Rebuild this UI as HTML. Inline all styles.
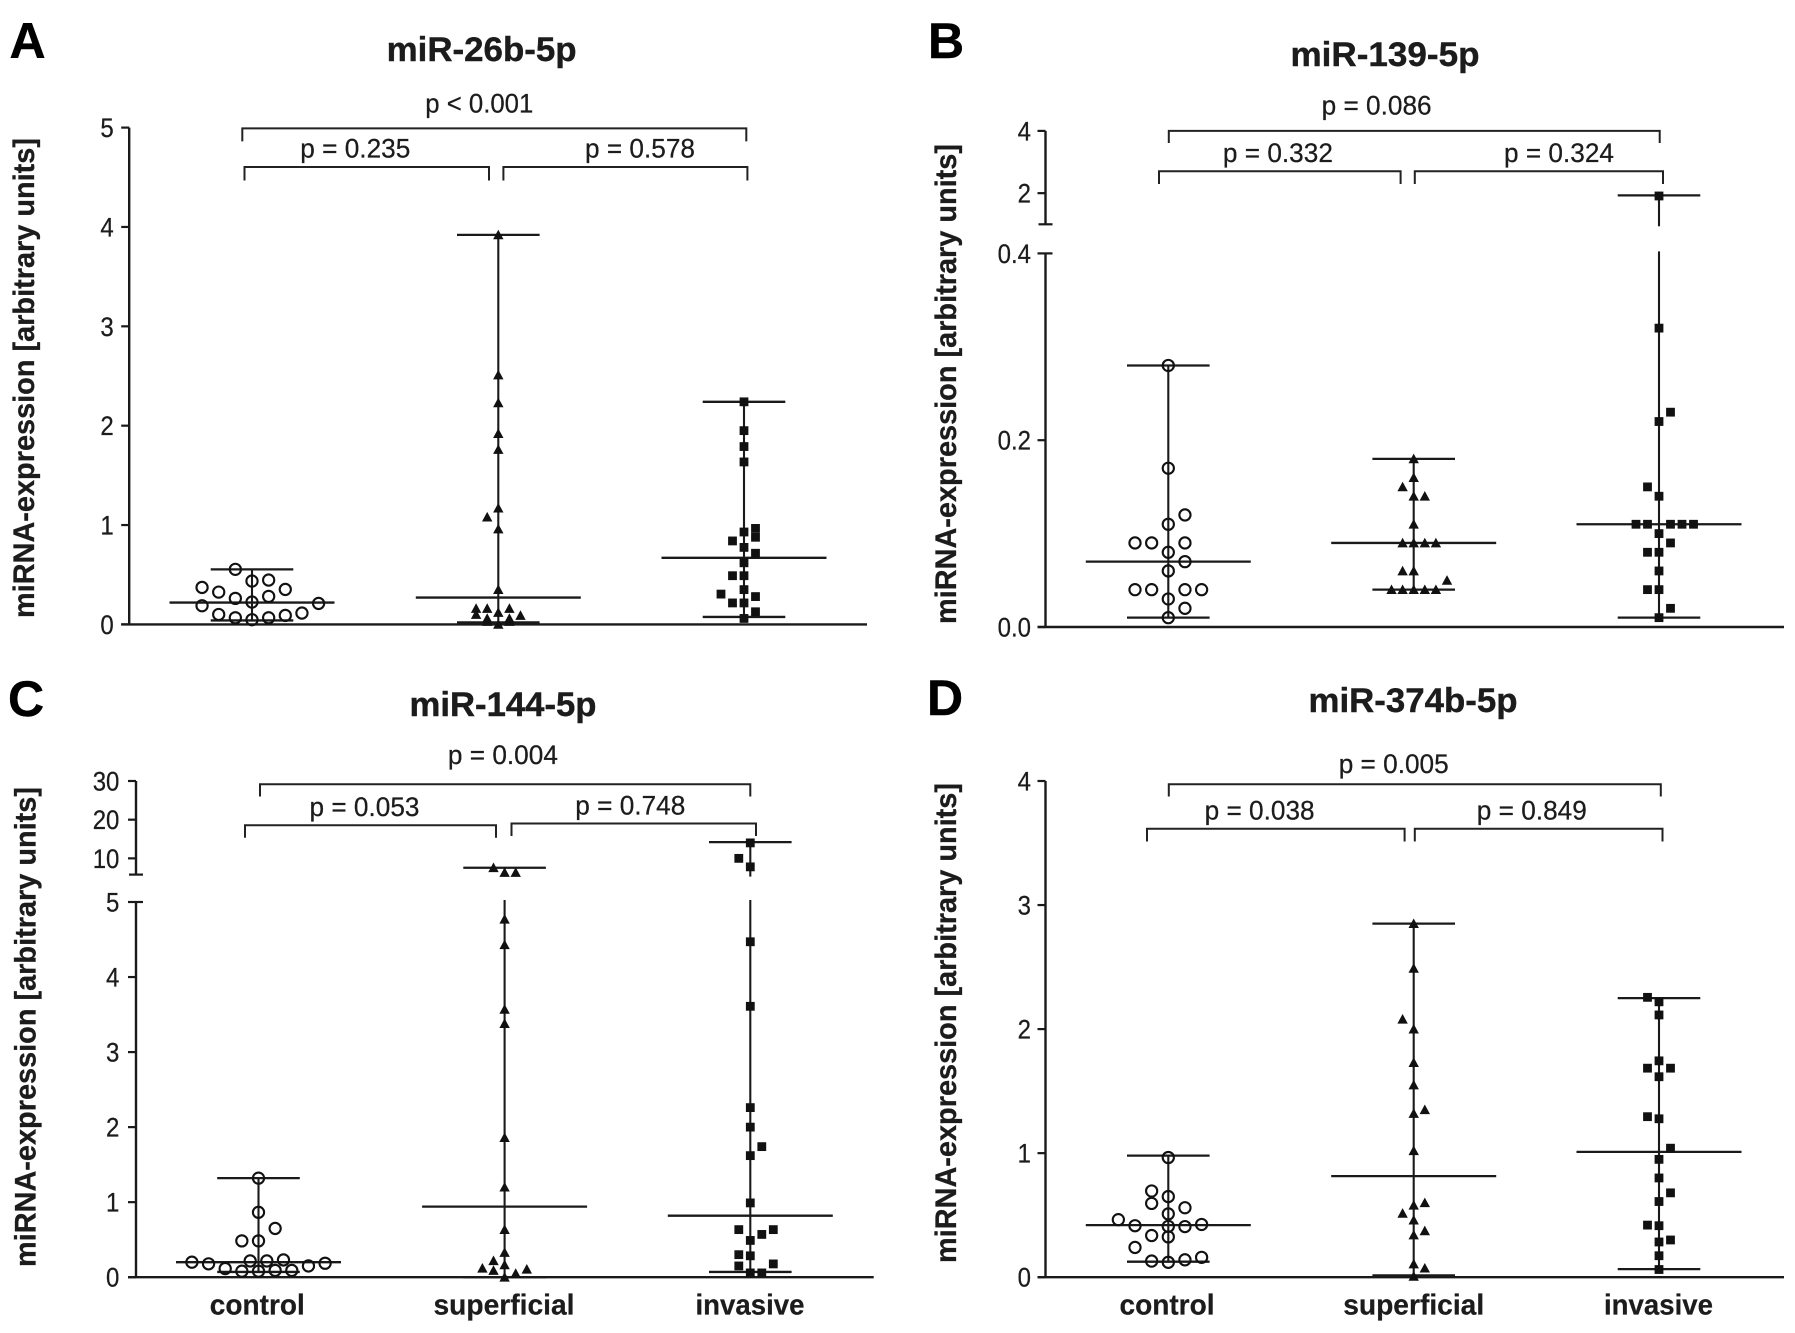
<!DOCTYPE html>
<html lang="en">
<head>
<meta charset="utf-8">
<title>miRNA expression by group</title>
<style>
html,body{margin:0;padding:0;background:#fff}
svg{display:block}
text{font-family:"Liberation Sans",sans-serif;fill:#1c1c1c;stroke:#1c1c1c;stroke-width:.25px}
.letter{font-size:50px;font-weight:bold;fill:#000;stroke:#000;stroke-width:.4px}
.title{font-size:34px;font-weight:bold;text-anchor:middle;stroke-width:.4px}
.ytitle{font-size:30px;font-weight:bold;text-anchor:middle;stroke-width:.3px}
.plabel{font-size:27px;text-anchor:middle}
.cat{font-size:29px;font-weight:bold;text-anchor:middle}
.tick{font-size:26.5px;text-anchor:end}
.bracket{fill:none;stroke:#222;stroke-width:2}
</style>
</head>
<body>
<svg id="figure" xmlns="http://www.w3.org/2000/svg" width="1795" height="1333" viewBox="0 0 1795 1333">
<rect x="0" y="0" width="1795" height="1333" fill="#fff"/>

<g>
<text class="letter" x="9.5" y="58">A</text>
<text class="title" x="481.6" y="61" textLength="190" lengthAdjust="spacingAndGlyphs">miR-26b-5p</text>
<text class="ytitle" transform="translate(34,378) rotate(-90)" textLength="480" lengthAdjust="spacingAndGlyphs">miRNA-expression [arbitrary units]</text>
<path class="bracket" d="M242.3 141.4V128.4H746.3V141.4"/>
<path class="bracket" d="M244.5 180.5V167H489V180.5"/>
<path class="bracket" d="M503.4 180.5V167H747.4V180.5"/>
<text class="plabel" x="479.3" y="112.4" textLength="108" lengthAdjust="spacingAndGlyphs">p &lt; 0.001</text>
<text class="plabel" x="355.3" y="157.4" textLength="110" lengthAdjust="spacingAndGlyphs">p = 0.235</text>
<text class="plabel" x="640" y="157.4" textLength="110" lengthAdjust="spacingAndGlyphs">p = 0.578</text>
</g>

<g>
<text class="letter" x="928" y="58">B</text>
<text class="title" x="1385" y="66" textLength="189" lengthAdjust="spacingAndGlyphs">miR-139-5p</text>
<text class="ytitle" transform="translate(956,384) rotate(-90)" textLength="480" lengthAdjust="spacingAndGlyphs">miRNA-expression [arbitrary units]</text>
<path class="bracket" d="M1168.8 143V130.9H1659.7V143"/>
<path class="bracket" d="M1159 184V171.3H1400.6V184"/>
<path class="bracket" d="M1414.8 184V171.3H1663V184"/>
<text class="plabel" x="1376.6" y="114.5" textLength="110" lengthAdjust="spacingAndGlyphs">p = 0.086</text>
<text class="plabel" x="1277.9" y="162" textLength="110" lengthAdjust="spacingAndGlyphs">p = 0.332</text>
<text class="plabel" x="1559" y="162" textLength="110" lengthAdjust="spacingAndGlyphs">p = 0.324</text>
</g>

<g>
<text class="letter" x="8" y="716">C</text>
<text class="title" x="503" y="716" textLength="187" lengthAdjust="spacingAndGlyphs">miR-144-5p</text>
<text class="ytitle" transform="translate(35.6,1027) rotate(-90)" textLength="480" lengthAdjust="spacingAndGlyphs">miRNA-expression [arbitrary units]</text>
<path class="bracket" d="M260 796.5V784.3H750.3V796.5"/>
<path class="bracket" d="M245 837.7V825.3H496V837.7"/>
<path class="bracket" d="M511.5 836V823.5H756V836"/>
<text class="plabel" x="502.9" y="763.9" textLength="110" lengthAdjust="spacingAndGlyphs">p = 0.004</text>
<text class="plabel" x="364.5" y="816.2" textLength="110" lengthAdjust="spacingAndGlyphs">p = 0.053</text>
<text class="plabel" x="630.3" y="814.5" textLength="110" lengthAdjust="spacingAndGlyphs">p = 0.748</text>
<text class="cat" x="257.3" y="1314.5" textLength="95" lengthAdjust="spacingAndGlyphs">control</text>
<text class="cat" x="504" y="1314.5" textLength="141" lengthAdjust="spacingAndGlyphs">superficial</text>
<text class="cat" x="750" y="1314.5" textLength="109" lengthAdjust="spacingAndGlyphs">invasive</text>
</g>

<g>
<text class="letter" x="927" y="715">D</text>
<text class="title" x="1413" y="712" textLength="209" lengthAdjust="spacingAndGlyphs">miR-374b-5p</text>
<text class="ytitle" transform="translate(956,1023) rotate(-90)" textLength="480" lengthAdjust="spacingAndGlyphs">miRNA-expression [arbitrary units]</text>
<path class="bracket" d="M1168.8 796.5V784.3H1660.8V796.5"/>
<path class="bracket" d="M1147 841.5V828.7H1404.6V841.5"/>
<path class="bracket" d="M1414.8 841.5V828.7H1662.5V841.5"/>
<text class="plabel" x="1393.7" y="772.9" textLength="110" lengthAdjust="spacingAndGlyphs">p = 0.005</text>
<text class="plabel" x="1259.6" y="819.7" textLength="110" lengthAdjust="spacingAndGlyphs">p = 0.038</text>
<text class="plabel" x="1531.8" y="819.7" textLength="110" lengthAdjust="spacingAndGlyphs">p = 0.849</text>
<text class="cat" x="1167" y="1314.5" textLength="95" lengthAdjust="spacingAndGlyphs">control</text>
<text class="cat" x="1413.7" y="1314.5" textLength="141" lengthAdjust="spacingAndGlyphs">superficial</text>
<text class="cat" x="1658.5" y="1314.5" textLength="109" lengthAdjust="spacingAndGlyphs">invasive</text>
</g>
</svg>

<script>
// ---- Panel A: miR-26b-5p ----
const panelATicks = [0, 1, 2, 3, 4, 5];
const panelATickLabels = ['0', '1', '2', '3', '4', '5'];
const panelAControlValues = [0.554, 0.436, 0.446, 0.372, 0.352, 0.325, 0.262, 0.282, 0.225, 0.211, 0.188, 0.10, 0.114, 0.09, 0.067, 0.067, 0.047];
const panelAControlLanes = [-1, 0, 1, -3, 2, -2, -1, 1, 0, 4, -3, -2, 3, 2, -1, 1, 0];
const panelASuperficialValues = [3.92, 2.51, 2.23, 1.92, 1.76, 1.17, 0.96, 1.08, 0.35, 0.16, 0.10, 0.16, 0.06, 0.12, 0.16, 0.06, 0.09, 0.0, 0.03, 0.03];
const panelASuperficialLanes = [0, 0, 0, 0, 0, 0, 0, -1, 0, -2, -2, -1, -1, 0, 1, 1, 2, 0, -1, 1];
const panelAInvasiveValues = [2.24, 1.95, 1.79, 1.635, 0.966, 0.93, 0.877, 0.84, 0.775, 0.716, 0.62, 0.49, 0.49, 0.35, 0.305, 0.28, 0.216, 0.216, 0.127, 0.06];
const panelAInvasiveLanes = [0, 0, 0, 0, 1, 0, 1, -1, 0, 1, 0, -1, 0, 0, -2, 1, -1, 0, 1, 0];
const panelAMedians = [0.22, 0.27, 0.67];
const panelAMins = [0.04, 0.02, 0.075];
const panelAMaxes = [0.554, 3.92, 2.24];

// ---- Panel B: miR-139-5p ----
const panelBTicks = [0, 0.2, 0.4, 2, 4];
const panelBTickLabels = ['0.0', '0.2', '0.4', '2', '4'];
const panelBControlValues = [0.28, 0.17, 0.12, 0.11, 0.09, 0.09, 0.09, 0.08, 0.07, 0.06, 0.04, 0.04, 0.04, 0.04, 0.03, 0.02, 0.01];
const panelBControlLanes = [0, 0, 1, 0, -2, -1, 1, 0, 1, 0, -2, -1, 1, 2, 0, 1, 0];
const panelBSuperficialValues = [0.18, 0.16, 0.15, 0.14, 0.14, 0.11, 0.09, 0.09, 0.09, 0.09, 0.06, 0.06, 0.05, 0.04, 0.04, 0.04, 0.04, 0.04];
const panelBSuperficialLanes = [0, 0, -1, 0, 1, 0, -1, 0, 1, 2, -1, 0, 3, -2, -1, 0, 1, 2];
const panelBInvasiveValues = [1.91, 0.32, 0.23, 0.22, 0.15, 0.14, 0.11, 0.11, 0.11, 0.11, 0.11, 0.10, 0.09, 0.08, 0.08, 0.06, 0.04, 0.04, 0.02, 0.01];
const panelBInvasiveLanes = [0, 0, 1, 0, -1, 0, -2, -1, 1, 2, 3, 0, 1, -1, 0, 0, -1, 0, 1, 0];
const panelBMedians = [0.07, 0.09, 0.11];
const panelBMins = [0.01, 0.04, 0.01];
const panelBMaxes = [0.28, 0.18, 1.93];

// ---- Panel C: miR-144-5p ----
const panelCTicks = [0, 1, 2, 3, 4, 5, 10, 20, 30];
const panelCTickLabels = ['0', '1', '2', '3', '4', '5', '10', '20', '30'];
const panelCControlValues = [1.32, 0.865, 0.65, 0.484, 0.484, 0.2, 0.178, 0.115, 0.217, 0.217, 0.23, 0.15, 0.186, 0.08, 0.08, 0.09, 0.09];
const panelCControlLanes = [0, 0, 1, -1, 0, -4, -3, -2, -0.5, 0.5, 1.5, 3, 4, -1, 0, 1, 2];
const panelCSuperficialValues = [7.57, 6.35, 6.35, 4.77, 4.43, 3.57, 3.38, 1.86, 1.2, 0.634, 0.33, 0.22, 0.165, 0.12, 0.09, 0.107, 0.05, 0.0];
const panelCSuperficialLanes = [-1, 0, 1, 0, 0, 0, 0, 0, 0, 0, 0, -1, 0, -2, -1, 2, 1, 0];
const panelCInvasiveValues = [14, 10, 7.8, 4.47, 3.61, 2.26, 2.0, 1.74, 1.62, 0.99, 0.634, 0.634, 0.57, 0.49, 0.30, 0.285, 0.177, 0.15, 0.057, 0.057];
const panelCInvasiveLanes = [0, -1, 0, 0, 0, 0, 0, 1, 0, 0, -1, 2, 1, 0, -1, 0, 2, -1, 0, 1];
const panelCMedians = [0.2, 0.94, 0.82];
const panelCMins = [0.07, 0.0, 0.07];
const panelCMaxes = [1.32, 7.57, 14.2];

// ---- Panel D: miR-374b-5p ----
const panelDTicks = [0, 1, 2, 3, 4];
const panelDTickLabels = ['0', '1', '2', '3', '4'];
const panelDControlValues = [0.965, 0.695, 0.65, 0.595, 0.56, 0.51, 0.464, 0.415, 0.408, 0.425, 0.41, 0.336, 0.325, 0.24, 0.16, 0.14, 0.13, 0.12];
const panelDControlLanes = [0, -1, 0, -1, 1, 0, -3, -2, 1, 2, 0, -1, 0, -2, 2, 1, -1, 0];
const panelDSuperficialValues = [2.85, 2.49, 2.08, 2.0, 1.73, 1.55, 1.35, 1.32, 1.02, 0.6, 0.58, 0.515, 0.46, 0.374, 0.34, 0.107, 0.073, 0.007];
const panelDSuperficialLanes = [0, 0, -1, 0, 0, 0, 1, 0, 0, 1, 0, -1, 0, 1, 0, 0, 1, 0];
const panelDInvasiveValues = [2.256, 2.22, 2.114, 1.744, 1.685, 1.685, 1.616, 1.294, 1.277, 1.04, 0.95, 0.8, 0.68, 0.61, 0.42, 0.415, 0.3, 0.284, 0.173, 0.062];
const panelDInvasiveLanes = [-1, 0, 0, 0, -1, 1, 0, -1, 0, 1, 0, 0, 1, 0, -1, 0, 1, 0, 0, 0];
const panelDMedians = [0.42, 0.815, 1.01];
const panelDMins = [0.125, 0.015, 0.065];
const panelDMaxes = [0.98, 2.85, 2.25];

const groupNames = ['control', 'superficial', 'invasive'];

// Axis geometry (layout only)
const panels = [
  { id: 'a', axisX: 129.2, axisEnd: 867, labelX: 113.7, centers: [252, 498.3, 744],
    lower: { vMin: 0, vMax: 5, yMin: 624.4, yMax: 127.6 }, upper: null,
    ticks: panelATicks, tickLabels: panelATickLabels,
    values: [panelAControlValues, panelASuperficialValues, panelAInvasiveValues],
    lanes: [panelAControlLanes, panelASuperficialLanes, panelAInvasiveLanes],
    medians: panelAMedians, mins: panelAMins, maxes: panelAMaxes },
  { id: 'b', axisX: 1045.5, axisEnd: 1784, labelX: 1031, centers: [1168.3, 1413.7, 1659],
    lower: { vMin: 0, vMax: 0.4, yMin: 627, yMax: 253.4 },
    upper: { vMin: 1, vMax: 4, yMin: 224.3, yMax: 130.9 },
    ticks: panelBTicks, tickLabels: panelBTickLabels,
    values: [panelBControlValues, panelBSuperficialValues, panelBInvasiveValues],
    lanes: [panelBControlLanes, panelBSuperficialLanes, panelBInvasiveLanes],
    medians: panelBMedians, mins: panelBMins, maxes: panelBMaxes },
  { id: 'c', axisX: 136, axisEnd: 873.7, labelX: 119.4, centers: [258.5, 504.6, 750.3],
    lower: { vMin: 0, vMax: 5, yMin: 1277.2, yMax: 902 },
    upper: { vMin: 5.8, vMax: 30, yMin: 874.6, yMax: 781 },
    ticks: panelCTicks, tickLabels: panelCTickLabels,
    values: [panelCControlValues, panelCSuperficialValues, panelCInvasiveValues],
    lanes: [panelCControlLanes, panelCSuperficialLanes, panelCInvasiveLanes],
    medians: panelCMedians, mins: panelCMins, maxes: panelCMaxes },
  { id: 'd', axisX: 1045.5, axisEnd: 1784, labelX: 1031, centers: [1168.3, 1413.7, 1659],
    lower: { vMin: 0, vMax: 4, yMin: 1277.2, yMax: 781 }, upper: null,
    ticks: panelDTicks, tickLabels: panelDTickLabels,
    values: [panelDControlValues, panelDSuperficialValues, panelDInvasiveValues],
    lanes: [panelDControlLanes, panelDSuperficialLanes, panelDInvasiveLanes],
    medians: panelDMedians, mins: panelDMins, maxes: panelDMaxes }
];

const laneSteps = [16.65, 11.1, 11.5];
const SVG_NS = 'http://www.w3.org/2000/svg';
const figure = document.getElementById('figure');
const INK = '#1a1a1a';

function make(tag, attrs, parent) {
  const node = document.createElementNS(SVG_NS, tag);
  for (const k in attrs) node.setAttribute(k, attrs[k]);
  parent.appendChild(node);
  return node;
}

function linear(seg, v) {
  return seg.yMin + (v - seg.vMin) / (seg.vMax - seg.vMin) * (seg.yMax - seg.yMin);
}

function yScale(p, v) {
  if (!p.upper || v <= p.lower.vMax) return linear(p.lower, v);
  if (v >= p.upper.vMin) return linear(p.upper, v);
  const gap = { vMin: p.lower.vMax, vMax: p.upper.vMin, yMin: p.lower.yMax, yMax: p.upper.yMin };
  return linear(gap, v);
}

function hLine(parent, x1, x2, y, w) {
  return make('line', { x1: x1, x2: x2, y1: y, y2: y, stroke: INK, 'stroke-width': w }, parent);
}

function vLine(parent, x, y1, y2, w) {
  return make('line', { x1: x, x2: x, y1: y1, y2: y2, stroke: INK, 'stroke-width': w }, parent);
}

function drawAxes(p) {
  const g = make('g', {}, figure);
  
  
  const base = yScale(p, 0);
  const xAxis = hLine(g, p.axisX - 8, p.axisEnd, base, 2.4);
  
  
  const lowerAxis = vLine(g, p.axisX, base, p.lower.yMax, 2.4);
  
  
  if (p.upper) {
    const upperAxis = vLine(g, p.axisX, p.upper.yMin, p.upper.yMax, 2.4);
    
    
    const capA = hLine(g, p.axisX - 7, p.axisX + 7, p.upper.yMin, 2.2);
    
    
    const capB = hLine(g, p.axisX, p.axisX + 7, p.lower.yMax, 2.2);
    
    
  }
  p.ticks.forEach(function (t, i) {
    const y = yScale(p, t);
    const mark = hLine(g, p.axisX - 8, p.axisX, y, 2.2);
    
    
    const label = make('text', { class: 'tick', x: p.labelX, y: y + 9.5 }, g);
    label.textContent = p.tickLabels[i];
    label.setAttribute('textLength', (p.tickLabels[i].length === 3 ? 1.39 : p.tickLabels[i].length * 0.556) * 24);
    label.setAttribute('lengthAdjust', 'spacingAndGlyphs');
    
    
  });
}

function drawStem(p, g, cx, minV, maxV, name) {
  const yLow = yScale(p, minV);
  const yHigh = yScale(p, maxV);
  if (p.upper && maxV > p.lower.vMax && minV <= p.lower.vMax) {
    const top = vLine(g, cx, yHigh, p.upper.yMin + 2, 2.1);
    
    
    const bottom = vLine(g, cx, p.lower.yMax - 2, yLow, 2.1);
    
    
  } else {
    const whole = vLine(g, cx, yHigh, yLow, 2.1);
    
    
  }
}

function drawPoint(g, shape, x, y) {
  if (shape === 0) {
    return make('circle', { cx: x, cy: y, r: 5.6, fill: 'none', stroke: '#111', 'stroke-width': 2.1 }, g);
  }
  if (shape === 1) {
    const pts = (x - 5.2) + ',' + (y + 4.4) + ' ' + (x + 5.2) + ',' + (y + 4.4) + ' ' + x + ',' + (y - 5.2);
    return make('polygon', { points: pts, fill: '#111' }, g);
  }
  return make('rect', { x: x - 4.4, y: y - 4.4, width: 8.8, height: 8.8, fill: '#111' }, g);
}

function drawGroup(p, i) {
  const g = make('g', {}, figure);
  const groupName = 'panel-' + p.id + '-' + groupNames[i];
  
  
  const cx = p.centers[i];
  drawStem(p, g, cx, p.mins[i], p.maxes[i], groupName + '-range-line');
  const median = hLine(g, cx - 82.5, cx + 82.5, yScale(p, p.medians[i]), 2.3);
  
  
  const maxCap = hLine(g, cx - 41.3, cx + 41.3, yScale(p, p.maxes[i]), 2.3);
  
  
  const minCap = hLine(g, cx - 41.3, cx + 41.3, yScale(p, p.mins[i]), 2.3);
  
  
  p.values[i].forEach(function (v, j) {
    const px = cx + p.lanes[i][j] * laneSteps[i];
    const dot = drawPoint(g, i, px, yScale(p, v));
    
    
  });
}

panels.forEach(function (p) {
  drawAxes(p);
  groupNames.forEach(function (_, i) { drawGroup(p, i); });
});
</script>
</body>
</html>
